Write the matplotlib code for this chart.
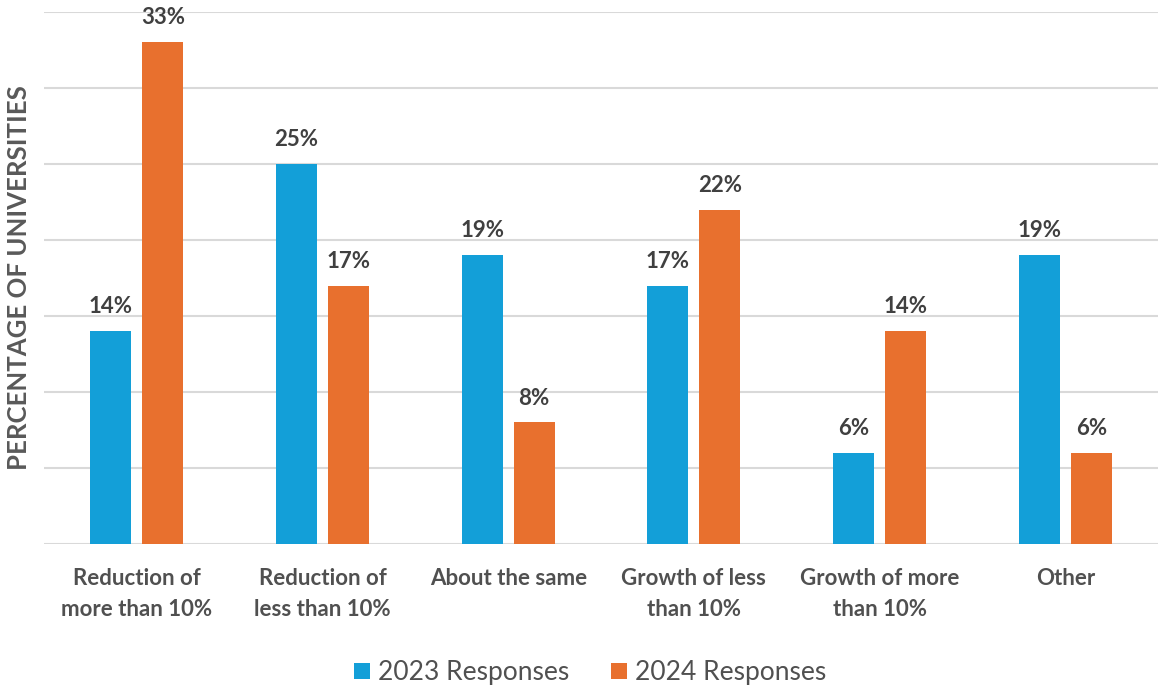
import matplotlib.pyplot as plt
import numpy as np

categories = ["Reduction of\nmore than 10%", "Reduction of\nless than 10%", "About the same",
              "Growth of less\nthan 10%", "Growth of more\nthan 10%", "Other"]
resp_2023 = [14, 25, 19, 17, 6, 19]
resp_2024 = [33, 17, 8, 22, 14, 6]
series_labels = ["2023 Responses", "2024 Responses"]

blue = "#139FD8"
orange = "#E8702E"
text_col = "#404040"

plt.rcParams['font.family'] = ['Lato', 'DejaVu Sans']

fig = plt.figure(figsize=(11.71, 6.88), dpi=100)
ax = fig.add_axes([0.0376, 0.2093, 0.9514, 0.7733])

x = np.arange(len(categories))
width = 0.22
off = 0.14

b1 = ax.bar(x - off, resp_2023, width, color=blue, label=series_labels[0], zorder=3)
b2 = ax.bar(x + off, resp_2024, width, color=orange, label=series_labels[1], zorder=3)

for bars in (b1, b2):
    for rect in bars:
        h = rect.get_height()
        ax.annotate(f"{h:.0f}%", (rect.get_x() + rect.get_width() / 2, h),
                    xytext=(0, 10), textcoords="offset points",
                    ha="center", va="bottom", fontsize=16, fontweight="bold", color=text_col)

ax.set_ylim(0, 35)
ax.set_xlim(-0.5, len(categories) - 0.5)
ax.set_yticks(np.arange(0, 36, 5))
ax.set_yticklabels([])
ax.tick_params(axis="y", length=0)
ax.tick_params(axis="x", length=0, pad=17)
ax.set_xticks(x)
ax.set_xticklabels(categories, fontsize=16, fontweight="bold", color="#505050", linespacing=1.6)
ax.grid(axis="y", color="#D9D9D9", linewidth=1.5, zorder=0)
for s in ax.spines.values():
    s.set_visible(False)

ax.set_ylabel("PERCENTAGE OF UNIVERSITIES", fontsize=18.5, fontweight="bold", color="#595959")
ax.yaxis.set_label_coords(-0.012, 0.5)

ax.legend(loc="lower center", bbox_to_anchor=(0.49, -0.31), ncol=2, frameon=False,
          fontsize=19, handlelength=0.6, handleheight=0.6, handletextpad=0.3,
          columnspacing=1.6, labelcolor="#505050")

fig.savefig("out.png", dpi=100)
